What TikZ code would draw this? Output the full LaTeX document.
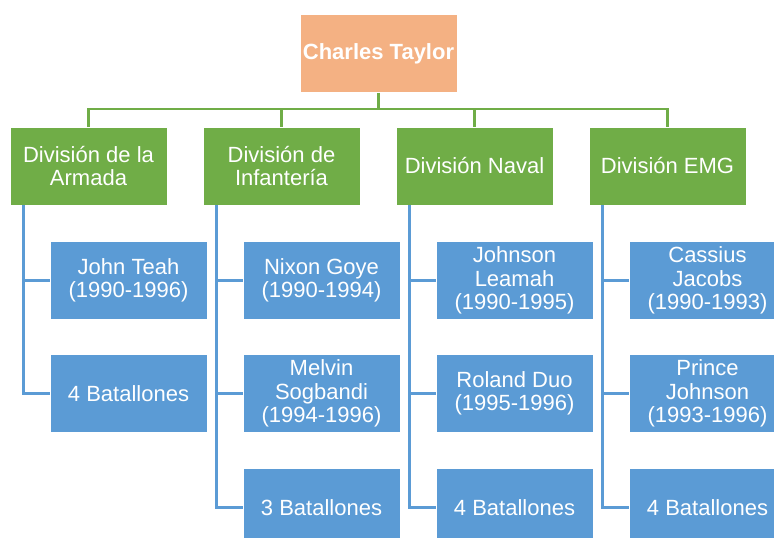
\documentclass[tikz,border=0pt]{standalone}
\usepackage{fontspec}
\setmainfont{Liberation Sans}
\definecolor{bossfill}{HTML}{F4B183}
\definecolor{divfill}{HTML}{70AD47}
\definecolor{unitfill}{HTML}{5B9BD5}
\tikzstyle{box}=[draw=white, line width=0.8pt, minimum width=157pt, minimum height=78pt, inner sep=2pt, text=white, align=center, font=\fontsize{22}{23.5}\selectfont]
\tikzstyle{boss}=[box, fill=bossfill, font=\fontsize{22}{23.5}\selectfont\bfseries]
\tikzstyle{division}=[box, fill=divfill]
\tikzstyle{unit}=[box, fill=unitfill]
\tikzstyle{trunk}=[draw=divfill, line width=2.7pt]
\tikzstyle{branch}=[draw=unitfill, line width=2.5pt]

\begin{document}
\begin{tikzpicture}[x=1pt, y=-1pt]
    \useasboundingbox (0,0) rectangle (774,538);
    \clip (0,0) rectangle (774,538);
    \node[boss] (taylor) at (378.5, 53.5) {Charles Taylor};
    \node[division] (armada) at (88.5, 166) {División de la\\Armada};
    \node[division] (infanteria) at (281.5, 166) {División de\\Infantería};
    \node[division] (naval) at (474.5, 166) {División Naval};
    \node[division] (emg) at (667.5, 166) {División EMG};
    \node[unit] (teah) at (128.5, 280.5) {John Teah\\(1990-1996)};
    \node[unit] (armadabat) at (128.5, 393.5) {4 Batallones};
    \node[unit] (goye) at (321.5, 280.5) {Nixon Goye\\(1990-1994)};
    \node[unit] (sogbandi) at (321.5, 393.5) {Melvin\\Sogbandi\\(1994-1996)};
    \node[unit] (infanteriabat) at (321.5, 507.5) {3 Batallones};
    \node[unit] (leamah) at (514.5, 280.5) {Johnson\\Leamah\\(1990-1995)};
    \node[unit] (duo) at (514.5, 393.5) {Roland Duo\\(1995-1996)};
    \node[unit] (navalbat) at (514.5, 507.5) {4 Batallones};
    \node[unit] (jacobs) at (707.5, 280.5) {Cassius\\Jacobs\\(1990-1993)};
    \node[unit] (johnson) at (707.5, 393.5) {Prince\\Johnson\\(1993-1996)};
    \node[unit] (emgbat) at (707.5, 507.5) {4 Batallones};
    \coordinate (split) at (378.5, 109);
    \draw[trunk] (taylor.south) -- (split);
    \draw[trunk] (split) -| (armada.north);
    \draw[trunk] (split) -| (infanteria.north);
    \draw[trunk] (split) -| (naval.north);
    \draw[trunk] (split) -| (emg.north);
    \draw[branch] ([xshift=14pt]armada.south west) |- (teah.west);
    \draw[branch] ([xshift=14pt]armada.south west) |- (armadabat.west);
    \draw[branch] ([xshift=14pt]infanteria.south west) |- (goye.west);
    \draw[branch] ([xshift=14pt]infanteria.south west) |- (sogbandi.west);
    \draw[branch] ([xshift=14pt]infanteria.south west) |- (infanteriabat.west);
    \draw[branch] ([xshift=14pt]naval.south west) |- (leamah.west);
    \draw[branch] ([xshift=14pt]naval.south west) |- (duo.west);
    \draw[branch] ([xshift=14pt]naval.south west) |- (navalbat.west);
    \draw[branch] ([xshift=14pt]emg.south west) |- (jacobs.west);
    \draw[branch] ([xshift=14pt]emg.south west) |- (johnson.west);
    \draw[branch] ([xshift=14pt]emg.south west) |- (emgbat.west);
\end{tikzpicture}
\end{document}
